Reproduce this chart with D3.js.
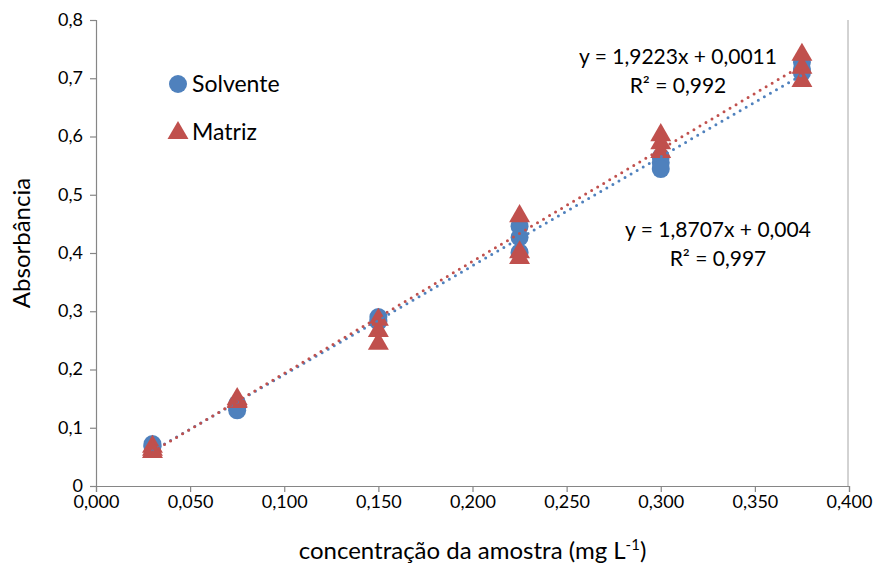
<!DOCTYPE html>
<html>
<head>
<meta charset="utf-8">
<script src="https://cdn.jsdelivr.net/npm/d3@7/dist/d3.min.js"></script>
<style>
  html, body { margin: 0; padding: 0; background: #ffffff; }
  svg text { font-family: Lato, "Open Sans", sans-serif; fill: #000; }
</style>
</head>
<body>
<svg id="chart" width="878" height="569"></svg>
<script>
// Concentration levels (mg L-1), three replicate readings per level
const concentrations = [0.03, 0.075, 0.15, 0.225, 0.3, 0.375];
const solventeValues = [
  [0.072, 0.069, 0.068],
  [0.141, 0.134, 0.130],
  [0.290, 0.285, 0.282],
  [0.446, 0.427, 0.401],
  [0.565, 0.555, 0.544],
  [0.728, 0.716, 0.709]
];
const matrizValues = [
  [0.069, 0.064, 0.060],
  [0.151, 0.148, 0.146],
  [0.287, 0.268, 0.246],
  [0.465, 0.403, 0.393],
  [0.604, 0.590, 0.575],
  [0.742, 0.720, 0.697]
];
// Fitted calibration lines: [slope, intercept, R²]
const solventeFit = [1.8707, 0.004, 0.997];
const matrizFit = [1.9223, 0.0011, 0.992];
const xTicks = [0, 0.05, 0.1, 0.15, 0.2, 0.25, 0.3, 0.35, 0.4];
const yTicks = [0, 0.1, 0.2, 0.3, 0.4, 0.5, 0.6, 0.7, 0.8];

const blue = "#4F81BD", red = "#C0504D";
const svg = d3.select("#chart");
const margin = { left: 96, right: 29, top: 20, bottom: 83 };
const W = 878, H = 569;

const x = d3.scaleLinear().domain([0, 0.4]).range([margin.left, W - margin.right]);
const y = d3.scaleLinear().domain([0, 0.8]).range([H - margin.bottom, margin.top]);

const fmtX = v => d3.format(".3f")(v).replace(".", ",");
const fmtY = v => (v === 0 ? "0" : d3.format(".1f")(v).replace(".", ","));

// Right plot-area edge
svg.append("line")
  .attr("x1", x(0.4) - 1).attr("x2", x(0.4) - 1)
  .attr("y1", y(0.8)).attr("y2", y(0))
  .attr("stroke", "#a6a6a6").attr("stroke-width", 1);

// Axes
const xAxis = svg.append("g")
  .attr("transform", `translate(0,${y(0)})`)
  .call(d3.axisBottom(x).tickValues(xTicks).tickFormat(fmtX).tickSize(6).tickPadding(3));
const yAxis = svg.append("g")
  .attr("transform", `translate(${x(0)},0)`)
  .call(d3.axisLeft(y).tickValues(yTicks).tickFormat(fmtY).tickSize(6).tickPadding(7));
[xAxis, yAxis].forEach(g => {
  g.select(".domain").attr("stroke", "#868686").attr("stroke-width", 1.2);
  g.selectAll(".tick line").attr("stroke", "#868686").attr("stroke-width", 1.2);
  g.selectAll(".tick text").style("font-size", "18px").attr("fill", "#000");
});
yAxis.selectAll(".tick text").attr("dy", "0.3em");

// Axis titles
const xt = svg.append("text")
  .attr("x", (x(0) + x(0.4)) / 2).attr("y", 559)
  .attr("text-anchor", "middle").style("font-size", "24px");
xt.append("tspan").text("concentração da amostra (mg L");
xt.append("tspan").text("-1").attr("dy", -9).style("font-size", "15px");
xt.append("tspan").text(")").attr("dy", 9);

svg.append("text")
  .attr("transform", `translate(30,${(y(0) + y(0.8)) / 2 - 10}) rotate(-90)`)
  .attr("text-anchor", "middle").style("font-size", "24px")
  .text("Absorbância");

// Trendlines over the concentration range
function trend(fit, color) {
  const [m, b] = fit;
  const x0 = d3.min(concentrations), x1 = d3.max(concentrations);
  svg.append("line")
    .attr("x1", x(x0)).attr("y1", y(m * x0 + b))
    .attr("x2", x(x1)).attr("y2", y(m * x1 + b))
    .attr("stroke", color).attr("stroke-width", 3)
    .attr("stroke-linecap", "round")
    .attr("stroke-dasharray", "0,7");
}

// Flatten replicate readings into points
function points(values) {
  const out = [];
  concentrations.forEach((c, i) => values[i].forEach(v => out.push({ c, v })));
  return out;
}

const circleR = 9;
const triSym = d3.symbol().type(d3.symbolTriangle).size(190);

svg.append("g").selectAll("circle")
  .data(points(solventeValues)).join("circle")
  .attr("cx", d => x(d.c)).attr("cy", d => y(d.v))
  .attr("r", circleR).attr("fill", blue);

svg.append("g").selectAll("path")
  .data(points(matrizValues)).join("path")
  .attr("d", triSym)
  .attr("transform", d => `translate(${x(d.c)},${y(d.v) + 1})`)
  .attr("fill", red);

trend(solventeFit, blue);
trend(matrizFit, red);

// Legend
const legend = svg.append("g");
legend.append("circle").attr("cx", 178).attr("cy", 84).attr("r", circleR).attr("fill", blue);
legend.append("text").attr("x", 192).attr("y", 84).attr("dy", "0.35em")
  .style("font-size", "23px").text("Solvente");
legend.append("path").attr("d", triSym).attr("transform", "translate(178,133)").attr("fill", red);
legend.append("text").attr("x", 192).attr("y", 132).attr("dy", "0.35em")
  .style("font-size", "23px").text("Matriz");

// Equation labels
const fmtNum = v => String(v).replace(".", ",");
function eqLabel(fit, cx, cy) {
  const [m, b, r2] = fit;
  svg.append("text").attr("x", cx).attr("y", cy).attr("dy", "0.35em")
    .attr("text-anchor", "middle").style("font-size", "21px")
    .text(`y = ${fmtNum(m)}x + ${fmtNum(b)}`);
  svg.append("text").attr("x", cx).attr("y", cy + 29).attr("dy", "0.35em")
    .attr("text-anchor", "middle").style("font-size", "21px")
    .text(`R² = ${fmtNum(r2)}`);
}
eqLabel(matrizFit, 678, 57);
eqLabel(solventeFit, 718, 230);
</script>
</body>
</html>
